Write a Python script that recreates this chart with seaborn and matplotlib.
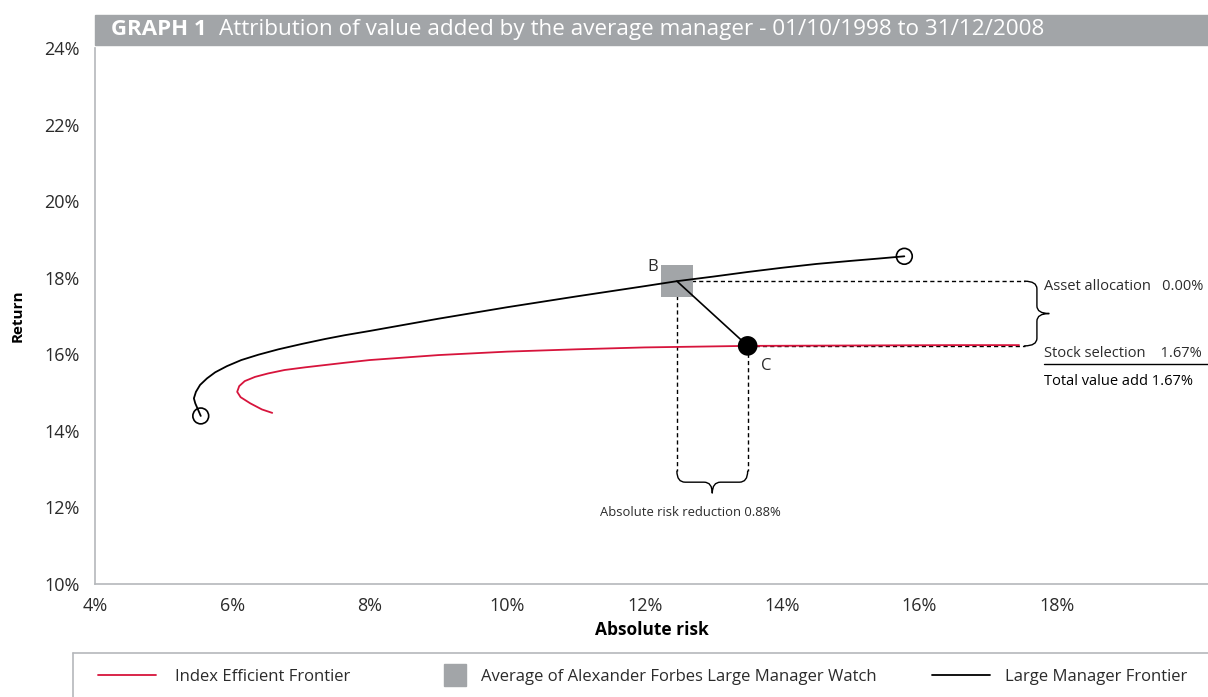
import numpy as np
import pandas as pd
import seaborn as sns
import matplotlib.pyplot as plt
from matplotlib.path import Path
from matplotlib.patches import PathPatch, Rectangle
from matplotlib.lines import Line2D

# ---- data (in %) ----
index_risk = [6.58, 6.43, 6.26, 6.12, 6.07, 6.10, 6.18, 6.33, 6.52, 6.76, 7.06,
              7.35, 7.64, 8.0, 9.0, 10.0, 11.0, 12.0, 13.5, 15.0, 16.5, 17.45]
index_return = [14.47, 14.56, 14.72, 14.88, 15.02, 15.17, 15.30, 15.41, 15.50,
                15.59, 15.66, 15.72, 15.78, 15.85, 15.98, 16.07, 16.13, 16.18,
                16.22, 16.23, 16.24, 16.24]

large_risk = [5.54, 5.46, 5.44, 5.47, 5.53, 5.63, 5.75, 5.92, 6.13, 6.38, 6.67,
              7.01, 7.35, 7.64, 8.0, 9.0, 10.0, 11.0, 12.0, 12.47, 13.0, 13.5,
              14.0, 14.5, 15.0, 15.4, 15.78]
large_return = [14.39, 14.72, 14.85, 15.02, 15.20, 15.37, 15.53, 15.69, 15.85,
                15.99, 16.13, 16.27, 16.40, 16.50, 16.61, 16.93, 17.23, 17.51,
                17.78, 17.91, 18.03, 18.15, 18.26, 18.36, 18.44, 18.50, 18.56]

point_b = (12.47, 17.91)   # average manager
point_c = (13.50, 16.22)   # same risk-return on index frontier

asset_allocation = 0.00
stock_selection = 1.67
total_value_add = 1.67
risk_reduction = 0.88

x_ticks = [4, 6, 8, 10, 12, 14, 16, 18]
y_ticks = [10, 12, 14, 16, 18, 20, 22, 24]

RED = "#d7143c"
GREY_BOX = "#a2a5a8"
SPINE = "#b5b8bb"
TEXT = "#2b2b2b"


def brace(ax, p0, p1, depth, r, vertical=False, lw=1.0):
    """Curly brace from p0 to p1, bulging by depth (down for horizontal, right for vertical)."""
    if not vertical:
        (x0, y0), x1 = p0, p1[0]
        xm, h = (x0 + x1) / 2, y0 - depth / 2
        pts = [(x0, y0), (x0, h), (x0 + r, h), (xm - r, h), (xm, h), (xm, y0 - depth),
               (xm, h), (xm + r, h), (x1 - r, h), (x1, h), (x1, y0)]
    else:
        (x0, y0), y1 = p0, p1[1]
        ym, w = (y0 + y1) / 2, x0 + depth / 2
        pts = [(x0, y0), (w, y0), (w, y0 - r), (w, ym + r), (w, ym), (x0 + depth, ym),
               (w, ym), (w, ym - r), (w, y1 + r), (w, y1), (x0, y1)]
    codes = [Path.MOVETO, Path.CURVE3, Path.CURVE3, Path.LINETO, Path.CURVE3, Path.CURVE3,
             Path.CURVE3, Path.CURVE3, Path.LINETO, Path.CURVE3, Path.CURVE3]
    ax.add_patch(PathPatch(Path(pts, codes), fill=False, lw=lw, color="black",
                           capstyle="round", clip_on=False))


sns.set_theme(style="white")
plt.rcParams["font.family"] = ["Open Sans", "DejaVu Sans"]

fig = plt.figure(figsize=(12.08, 6.97), dpi=100)
ax = fig.add_axes([0.0786, 0.1621, 0.9214, 0.769])

idx_df = pd.DataFrame({"risk": index_risk, "ret": index_return})
lrg_df = pd.DataFrame({"risk": large_risk, "ret": large_return})

sns.lineplot(data=idx_df, x="risk", y="ret", sort=False, estimator=None,
             color=RED, lw=1.3, ax=ax, zorder=3)
sns.lineplot(data=lrg_df, x="risk", y="ret", sort=False, estimator=None,
             color="black", lw=1.3, ax=ax, zorder=3)

# open circles at the ends of the large manager frontier
ends = lrg_df.iloc[[0, -1]]
sns.scatterplot(data=ends, x="risk", y="ret", marker="o", s=130,
                facecolor="none", edgecolor="black", linewidth=1.2, ax=ax, zorder=4)

# B -> C connector
ax.plot([point_b[0], point_c[0]], [point_b[1], point_c[1]], color="black", lw=1.2, zorder=3)

# dashed guides
x_right = 17.53
y_bottom = 12.95
dash = dict(color="black", lw=1.0, ls=(0, (3, 2.2)), zorder=2)
ax.plot([point_b[0], x_right], [point_b[1], point_b[1]], **dash)
ax.plot([point_c[0], x_right], [point_c[1], point_c[1]], **dash)
ax.plot([point_b[0], point_b[0]], [point_b[1], y_bottom], **dash)
ax.plot([point_c[0], point_c[0]], [point_c[1], y_bottom], **dash)

sns.scatterplot(x=[point_b[0]], y=[point_b[1]], marker="s", s=520, color=GREY_BOX,
                edgecolor="none", ax=ax, zorder=2.5)
sns.scatterplot(x=[point_c[0]], y=[point_c[1]], marker="o", s=200, color="black",
                edgecolor="none", ax=ax, zorder=5)

ax.text(point_b[0] - 0.35, point_b[1] + 0.38, "B", fontsize=12, color=TEXT, ha="center", va="center")
ax.text(point_c[0] + 0.27, point_c[1] - 0.53, "C", fontsize=12, color=TEXT, ha="center", va="center")

# braces
brace(ax, (point_b[0], y_bottom), (point_c[0], y_bottom), depth=0.58, r=0.12)
brace(ax, (x_right, point_b[1]), (x_right, point_c[1]), depth=0.36, r=0.2, vertical=True)

ax.text(12.66, 11.88, f"Absolute risk reduction {risk_reduction:.2f}%", fontsize=9.4,
        color=TEXT, ha="center", va="center")
tx = 17.82
ax.text(tx, 17.76, f"Asset allocation   {asset_allocation:.2f}%", fontsize=10.5,
        color=TEXT, ha="left", va="center", clip_on=False)
ax.text(tx, 16.03, f"Stock selection    {stock_selection:.2f}%", fontsize=10.5,
        color=TEXT, ha="left", va="center", clip_on=False)
ax.plot([tx, 20.3], [15.74, 15.74], color="black", lw=1.0, clip_on=False)
ax.text(tx, 15.28, f"Total value add {total_value_add:.2f}%", fontsize=10.5,
        color="black", ha="left", va="center", fontweight="medium", clip_on=False)

# axes styling
ax.set_xlim(4, 20.2)
ax.set_ylim(10, 24)
ax.set_xticks(x_ticks)
ax.set_yticks(y_ticks)
ax.set_xticklabels([f"{t}%" for t in x_ticks])
ax.set_yticklabels([f"{t}%" for t in y_ticks])
ax.tick_params(axis="both", which="major", labelsize=13, colors=SPINE, labelcolor=TEXT,
               length=9, width=1.2, direction="out", pad=2)
ax.tick_params(axis="x", length=7)
for side in ["top", "right"]:
    ax.spines[side].set_visible(False)
for side in ["left", "bottom"]:
    ax.spines[side].set_color(SPINE)
    ax.spines[side].set_linewidth(1.2)
ax.set_xlabel("Absolute risk", fontsize=12.5, fontweight="bold", color="black", labelpad=5)
ax.set_ylabel("Return", fontsize=11, fontweight="bold", color="black", labelpad=14)
ax.grid(False)

# title bar
fig.patches.append(Rectangle((0.0786, 0.935), 0.9214, 0.044, transform=fig.transFigure,
                             color=GREY_BOX, zorder=0))
fig.text(0.0915, 0.957, "GRAPH 1", fontsize=16, fontweight="bold", color="white",
         ha="left", va="center")
fig.text(0.1815, 0.957, "Attribution of value added by the average manager - 01/10/1998 to 31/12/2008",
         fontsize=16.2, color="white", ha="left", va="center")

# legend frame lines
fig.lines.append(Line2D([0.0604, 1.0], [0.063, 0.063], transform=fig.transFigure, color=SPINE, lw=1.2))
fig.lines.append(Line2D([0.0604, 0.0604], [0.0, 0.063], transform=fig.transFigure, color=SPINE, lw=1.2))

leg_y = 0.0287
entries = [
    (Line2D([], [], color=RED, lw=1.3), "Index Efficient Frontier", 0.0811, 3.5, 1.1),
    (Line2D([], [], color=GREY_BOX, marker="s", ls="none", markersize=16),
     "Average of Alexander Forbes Large Manager Watch", 0.3684, 1.2, 0.95),
    (Line2D([], [], color="black", lw=1.3), "Large Manager Frontier", 0.7715, 3.5, 0.9),
]
for handle, label, xpos, hl, pad in entries:
    fig.legend([handle], [label], loc="center left", bbox_to_anchor=(xpos, leg_y),
               frameon=False, fontsize=12, handlelength=hl, handletextpad=pad,
               borderpad=0, borderaxespad=0, labelcolor=TEXT)

fig.savefig("out.png", dpi=100)
